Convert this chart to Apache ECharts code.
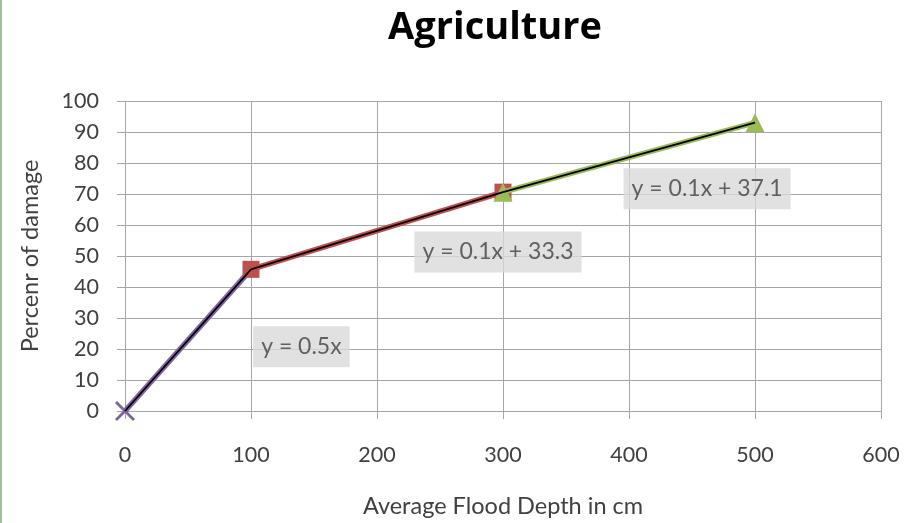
<!DOCTYPE html>
<html><head><meta charset="utf-8">
<script src="https://cdn.jsdelivr.net/npm/echarts@6/dist/echarts.min.js"></script>
<style>html,body{margin:0;padding:0;background:#fff}#c{width:906px;height:523px}</style>
</head><body><div id="c"></div>
<script>
const seg1X = [0, 100];
const seg1Y = [0, 45.7];
const seg2X = [100, 300];
const seg2Y = [45.7, 70.6];
const seg3X = [300, 500];
const seg3Y = [70.6, 93.0];
const equationTexts = ['y = 0.5x', 'y = 0.1x + 33.3', 'y = 0.1x + 37.1'];
const xTicks = [0, 100, 200, 300, 400, 500, 600];
const yTicks = [0, 10, 20, 30, 40, 50, 60, 70, 80, 90, 100];

const FONT = 'Lato';
const pairs = (xs, ys) => xs.map((x, i) => [x, ys[i]]);
const gridColor = '#a6a6a6';

function seg(data, color, symbol, size, z) {
  return [{
    type: 'line', data: data, symbol: symbol, symbolSize: size,
    lineStyle: { color: color, width: 5.5 }, itemStyle: { color: color, opacity: 1 },
    showAllSymbol: true, z: z, animation: false
  }, {
    type: 'line', data: data, symbol: 'none',
    lineStyle: { color: '#000', width: 1.8 }, z: 10, animation: false
  }];
}
// X-shaped marker built as a filled polygon
const crossPath = 'path://M0,1L1,0L10,9L9,10Z M9,0L10,1L1,10L0,9Z';

const seg1Data = pairs(seg1X, seg1Y).map((p, i) => i === 0 ? p : { value: p, symbol: 'none' });

const labelAnchors = [[140, 20.7], [296, 51.3], [462, 71.7]];
const chart = echarts.init(document.getElementById('c'), null, { renderer: 'canvas' });
chart.setOption({
  animation: false,
  title: {
    text: 'Agriculture', left: 490, top: 4, textAlign: 'center',
    textStyle: { fontFamily: 'Open Sans', fontWeight: 'bold', fontSize: 38, color: '#000' }
  },
  grid: { left: 125, right: 25, top: 101, bottom: 108 },
  xAxis: {
    type: 'value', min: 0, max: 600, interval: 100,
    name: 'Average Flood Depth in cm', nameLocation: 'middle', nameGap: 83,
    nameTextStyle: { fontFamily: FONT, fontSize: 23.5, color: '#404040' },
    axisLine: { show: true, lineStyle: { color: gridColor } },
    axisTick: { show: true, length: 8, lineStyle: { color: gridColor } },
    splitLine: { show: true, lineStyle: { color: gridColor } },
    axisLabel: { fontFamily: FONT, fontSize: 21.5, color: '#404040', margin: 33,
      formatter: v => xTicks.includes(v) ? String(v) : '' }
  },
  yAxis: {
    type: 'value', min: 0, max: 100, interval: 10,
    name: 'Percenr of damage', nameLocation: 'middle', nameGap: 83, nameRotate: 90,
    nameTextStyle: { fontFamily: FONT, fontSize: 23.5, color: '#404040' },
    axisLine: { show: true, lineStyle: { color: gridColor } },
    axisTick: { show: true, length: 8, lineStyle: { color: gridColor } },
    splitLine: { show: true, lineStyle: { color: gridColor } },
    axisLabel: { fontFamily: FONT, fontSize: 21.5, color: '#404040', margin: 26,
      formatter: v => yTicks.includes(v) ? String(v) : '' }
  },
  graphic: [{
    type: 'line', shape: { x1: 1, y1: 0, x2: 1, y2: 523 },
    style: { stroke: '#9fbf9b', lineWidth: 2 }
  }],
  series: [
    ...seg(seg1Data, '#8064a2', crossPath, 20, 2),
    ...seg(pairs(seg2X, seg2Y), '#c0504d', 'rect', 17, 4),
    ...seg(pairs(seg3X, seg3Y), '#9bbb59', 'triangle', 19, 6),
    {
      type: 'scatter', symbolSize: 0, z: 12, silent: true,
      data: labelAnchors.map((p, i) => ({ value: p, name: equationTexts[i] })),
      label: {
        show: true, position: 'inside', formatter: p => p.name,
        fontFamily: FONT, fontSize: 23, color: '#404040',
        backgroundColor: '#d9d9d9', padding: [9, 8, 9, 8]
      }
    }
  ]
});
</script></body></html>
